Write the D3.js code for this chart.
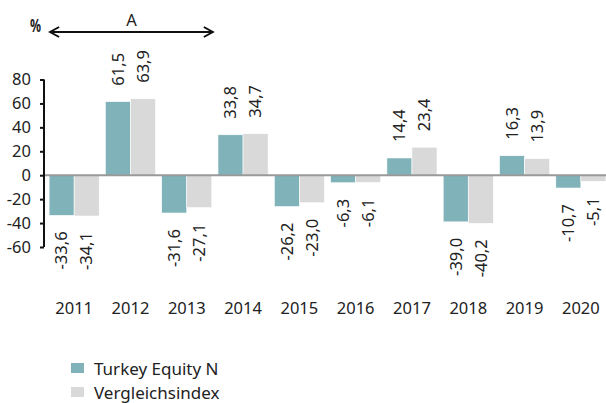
<!DOCTYPE html>
<html><head><meta charset="utf-8">
<script src="https://cdn.jsdelivr.net/npm/d3@7"></script>
<style>
body{margin:0;background:#fff;}
svg{display:block;}
text{font-family:"Noto Sans",sans-serif;fill:#222;}
</style></head>
<body>
<svg id="chart" width="606" height="403"></svg>
<script>
const categories = ["2011","2012","2013","2014","2015","2016","2017","2018","2019","2020"];
const seriesNames = ["Turkey Equity N","Vergleichsindex"];
const fundValues = [-33.6, 61.5, -31.6, 33.8, -26.2, -6.3, 14.4, -39.0, 16.3, -10.7];
const indexValues = [-34.1, 63.9, -27.1, 34.7, -23.0, -6.1, 23.4, -40.2, 13.9, -5.1];
const yTicks = [-60,-40,-20,0,20,40,60,80];
const colors = ["#7fb2b9","#d9d9d9"];
const annotation = {label:"A", from:"2011", to:"2013"};

const svg = d3.select("#chart");
const x0 = d3.scaleBand().domain(categories).range([46, 609]).paddingInner(0.11).paddingOuter(0.055);
const x1 = d3.scaleBand().domain([0,1]).range([0, x0.bandwidth()]);
const y = d3.scaleLinear().domain([-60, 80]).range([247, 79.5]);
const fmt = v => v.toFixed(1).replace(".", ",");

const data = categories.map((c,i)=>({cat:c, vals:[fundValues[i], indexValues[i]]}));

// bars
const g = svg.append("g");
data.forEach(d=>{
  d.vals.forEach((v,k)=>{
    const bx = x0(d.cat)+x1(k);
    g.append("rect")
      .attr("x", bx).attr("width", x1.bandwidth())
      .attr("y", y(Math.max(0,v))).attr("height", Math.abs(y(v)-y(0)))
      .attr("fill", colors[k]).attr("stroke","#fff").attr("stroke-width",0.6);
    const cx = bx + x1.bandwidth()/2;
    const ly = v>=0 ? y(v)-16 : y(v)+16;
    g.append("text")
      .attr("transform", `translate(${cx},${ly}) rotate(-90)`)
      .attr("text-anchor", v>=0 ? "start":"end")
      .attr("dy","0.35em")
      .attr("font-size",16.5)
      .text(fmt(v));
  });
});

// zero line
svg.append("line").attr("x1",44).attr("x2",606).attr("y1",y(0)).attr("y2",y(0))
  .attr("stroke","#999").attr("stroke-width",2);

// y axis
const yAxis = d3.axisLeft(y).tickValues(yTicks).tickSize(4).tickPadding(9).tickFormat(d=>d);
const ya = svg.append("g").attr("transform","translate(44,0)").call(yAxis);
ya.select(".domain").attr("stroke","#111").attr("stroke-width",2).attr("d",`M0,${y(80)}V${y(-60)}`);
ya.selectAll(".tick line").attr("stroke","#111").attr("stroke-width",2);
ya.selectAll(".tick text").attr("font-size",16.5).attr("fill","#222").style("font-family","Noto Sans");

// x labels
const xa = d3.axisBottom(x0).tickSize(0).tickPadding(0);
const xg = svg.append("g").attr("transform","translate(0,302)").call(xa);
xg.select(".domain").remove();
xg.selectAll(".tick text").attr("font-size",16.5).attr("fill","#222").style("font-family","Noto Sans").attr("dy","0.71em");

// % label and arrow annotation
svg.append("text").attr("transform","translate(30,32) scale(0.72,1)").attr("font-size",17).attr("font-weight","bold").text("%");
const ax1 = x0(annotation.from)+1, ax2 = x0(annotation.to)+x0.bandwidth()+1, ay = 32;
const ag = svg.append("g").attr("stroke","#111").attr("stroke-width",2).attr("fill","none");
ag.append("line").attr("x1",ax1).attr("x2",ax2).attr("y1",ay).attr("y2",ay);
ag.append("path").attr("d",`M${ax1+9},${ay-5}L${ax1},${ay}L${ax1+9},${ay+5}`);
ag.append("path").attr("d",`M${ax2-9},${ay-5}L${ax2},${ay}L${ax2-9},${ay+5}`);
svg.append("text").attr("x",(ax1+ax2)/2).attr("y",26).attr("text-anchor","middle").attr("font-size",16.5).text(annotation.label);

// legend
const lg = svg.append("g");
seriesNames.forEach((n,k)=>{
  lg.append("rect").attr("x",71).attr("y",363+k*24).attr("width",13).attr("height",10).attr("fill",colors[k]);
  lg.append("text").attr("x",94).attr("y",375+k*24).attr("font-size",17).text(n);
});
</script>
</body></html>
